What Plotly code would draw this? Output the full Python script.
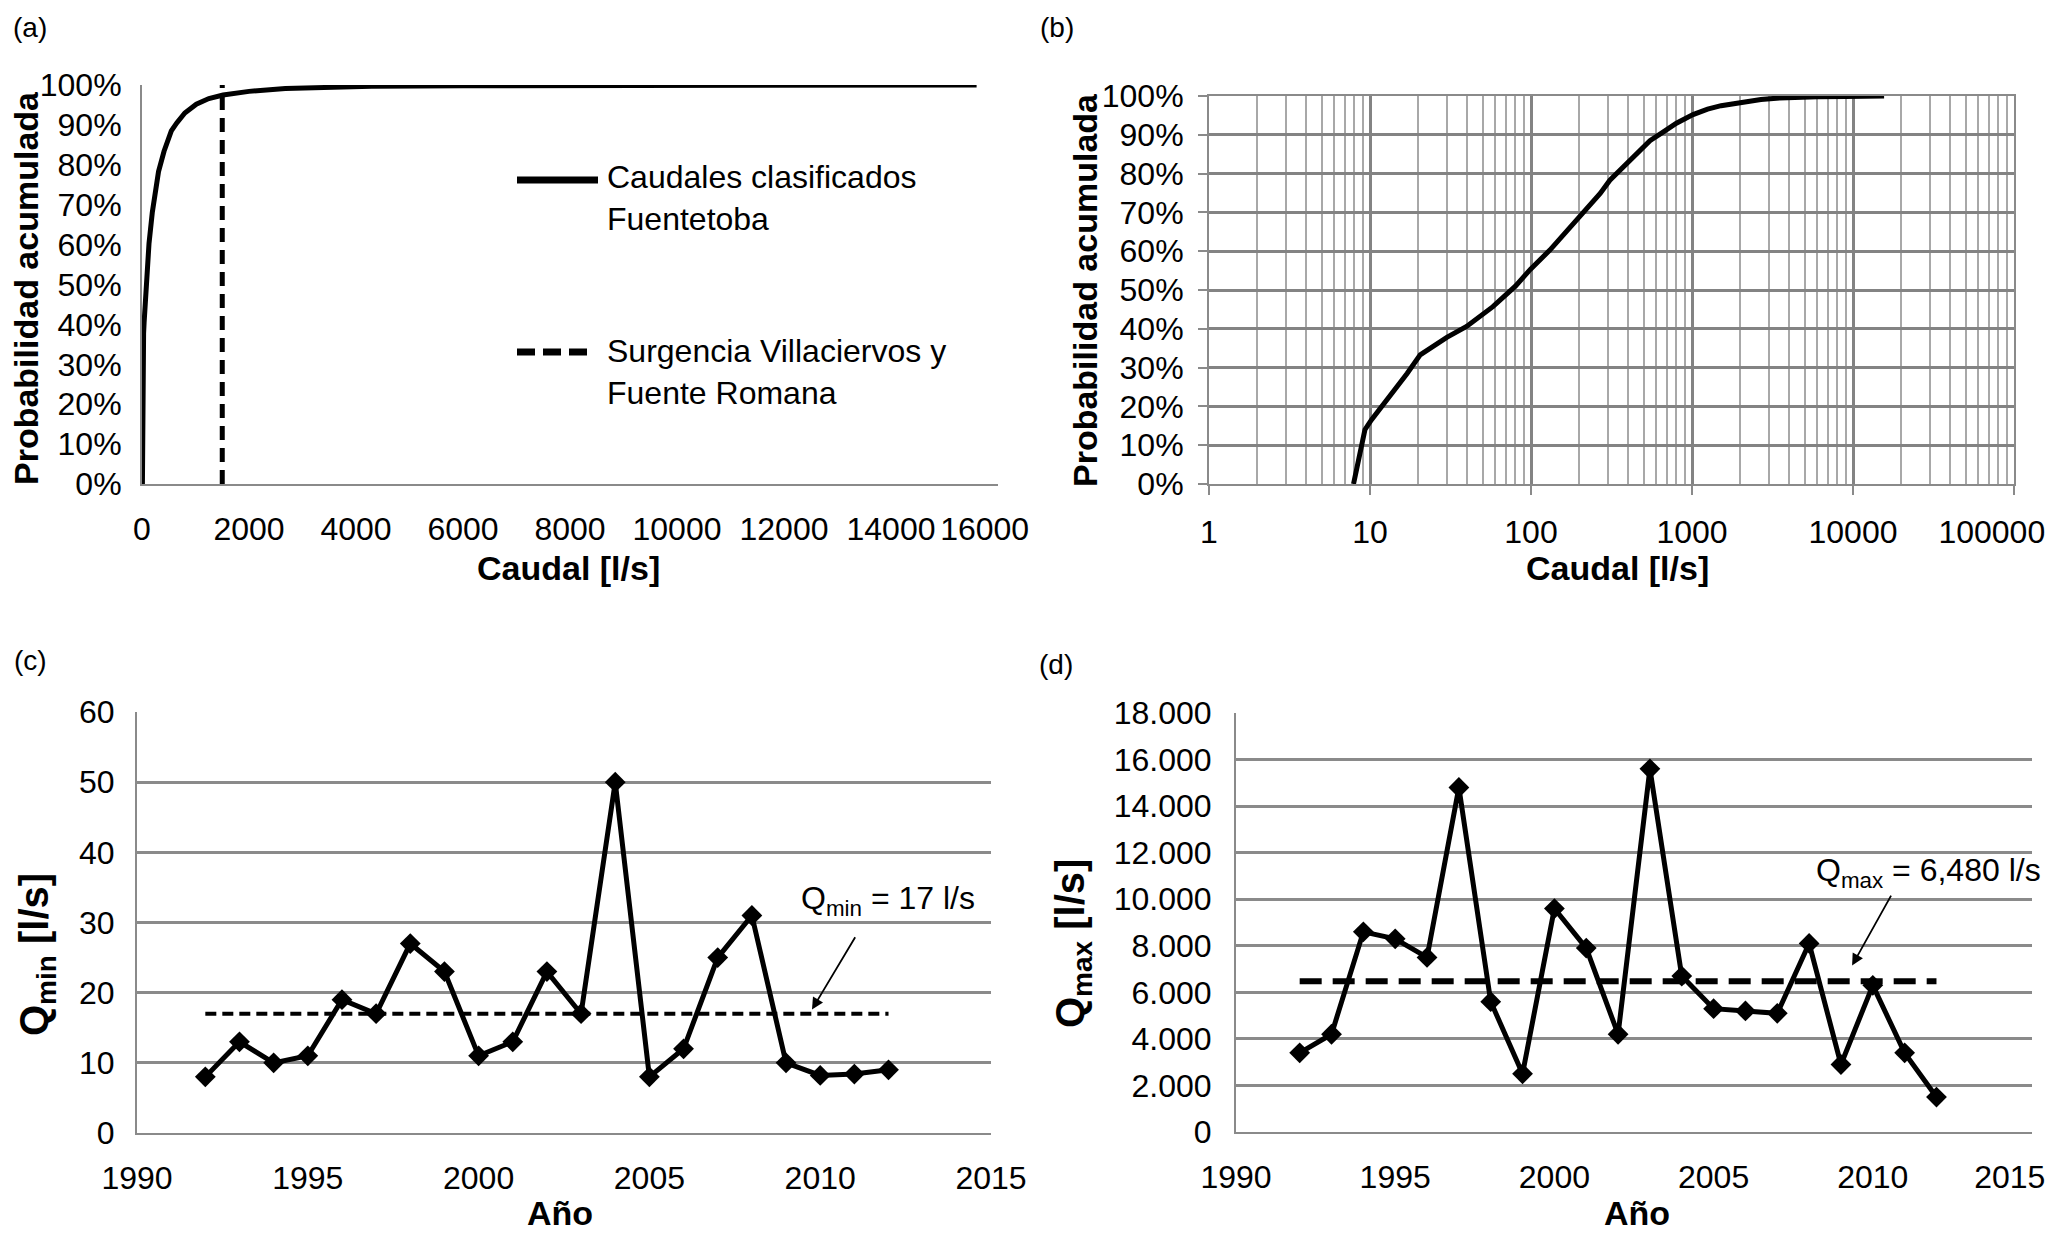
import plotly.graph_objects as go

# ---------------- data ----------------
# (a) / (b) flow duration curve (caudales clasificados Fuentetoba)
caudal = [7.9, 9.3, 10.2, 13.5, 17, 20.5, 23.6, 30, 39.8, 58, 80, 99, 131, 192,
          269, 309, 412, 548, 650, 800, 1015, 1250, 1516, 2000, 2680, 3500,
          4290, 6000, 9000, 12000, 15600]
prob = [0.0, 0.14, 0.165, 0.229, 0.285, 0.333, 0.35, 0.378, 0.406, 0.457, 0.51,
        0.553, 0.603, 0.68, 0.749, 0.783, 0.834, 0.885, 0.905, 0.93, 0.952,
        0.966, 0.975, 0.984, 0.991, 0.995, 0.997, 0.998, 0.999, 0.9995, 1.0]
surgencia_caudal = 1500
surgencia_prob = [0.0, 1.0]

# (c) / (d) annual minimum / maximum flows
years = list(range(1992, 2013))
qmin = [8, 13, 10, 11, 19, 17, 27, 23, 11, 13, 23, 17, 50, 8, 12, 25, 31, 10,
        8.2, 8.4, 9]
qmax = [3400, 4200, 8600, 8300, 7500, 14800, 5600, 2500, 9600, 7900, 4200,
        15600, 6700, 5300, 5200, 5100, 8100, 2900, 6300, 3400, 1500]
qmin_mean = 17
qmax_mean = 6480
mean_years = [1992, 2012]

NB = "\u00a0"
# tick labels
pct_vals = [i / 10 for i in range(11)]
a_xticks = list(range(0, 16001, 2000))
a_xticktext = ["0", "2000", "4000", "6000", "8000", "10000", "12000", "14000",
               "16000" + NB * 3]
b_xticks = [1, 10, 100, 1000, 10000, 100000]
b_xticktext = ["1", "10", "100", "1000", "10000", "100000" + NB * 5]
b_minor = [m * 10 ** e for e in range(5) for m in range(2, 10)]
year_ticks = [1990, 1995, 2000, 2005, 2010, 2015]
year_ticktext_c = ["1990", "1995", "2000", "2005", "2010", "2015"]
year_ticktext_d = ["1990", "1995", "2000", "2005", "2010", "2015" + NB * 5]
d_yticks = list(range(0, 18001, 2000))
d_yticktext = ["0", "2.000", "4.000", "6.000", "8.000", "10.000", "12.000",
               "14.000", "16.000", "18.000"]

# ---------------- layout helpers ----------------
OFF = 8  # page body margin
W, H = 2067 - OFF, 1243 - 2 * OFF
FONT = "Liberation Sans, Arial, Helvetica, sans-serif"
GRAY = "#8a8a8a"


def px(x):
    return (x - OFF) / W


def py(y):
    return 1 - (y - OFF) / H


fig = go.Figure()

# (a)
fig.add_trace(go.Scatter(x=caudal, y=prob, mode="lines",
                         line=dict(color="black", width=5),
                         xaxis="x", yaxis="y", showlegend=False))
fig.add_trace(go.Scatter(x=[surgencia_caudal, surgencia_caudal], y=surgencia_prob,
                         mode="lines",
                         line=dict(color="black", width=5, dash="14px,8px"),
                         xaxis="x", yaxis="y", showlegend=False))
# (b)
fig.add_trace(go.Scatter(x=caudal, y=prob, mode="lines",
                         line=dict(color="black", width=5),
                         xaxis="x2", yaxis="y2", showlegend=False))
# (c)
fig.add_trace(go.Scatter(x=mean_years, y=[qmin_mean, qmin_mean], mode="lines",
                         line=dict(color="black", width=4, dash="11px,6px"),
                         xaxis="x3", yaxis="y3", showlegend=False))
fig.add_trace(go.Scatter(x=years, y=qmin, mode="lines+markers",
                         line=dict(color="black", width=5),
                         marker=dict(symbol="diamond", size=16, color="black"),
                         xaxis="x3", yaxis="y3", showlegend=False))
# (d)
fig.add_trace(go.Scatter(x=mean_years, y=[qmax_mean, qmax_mean], mode="lines",
                         line=dict(color="black", width=6, dash="22px,11px"),
                         xaxis="x4", yaxis="y4", showlegend=False))
fig.add_trace(go.Scatter(x=years, y=qmax, mode="lines+markers",
                         line=dict(color="black", width=5),
                         marker=dict(symbol="diamond", size=16, color="black"),
                         xaxis="x4", yaxis="y4", showlegend=False))

tickfont = dict(family=FONT, size=32, color="black")
base_axis = dict(showline=True, linecolor=GRAY, linewidth=2, zeroline=False,
                 tickfont=tickfont, showgrid=False, ticks="", automargin=False,
                 ticklabeloverflow="allow")

layout = dict(
    width=W, height=H, margin=dict(l=0, r=0, t=0, b=0, autoexpand=False),
    paper_bgcolor="white", plot_bgcolor="white", showlegend=False,
    font=dict(family=FONT, color="black"),
    xaxis=dict(base_axis, domain=[px(142), px(998)], range=[0, 16000],
               tickvals=a_xticks, ticktext=a_xticktext, anchor="y",
               ticklabelstandoff=16),
    yaxis=dict(base_axis, domain=[py(484), py(85)], range=[0, 1],
               tickvals=pct_vals, tickformat=".0%", anchor="x",
               ticklabelstandoff=12),
    xaxis2=dict(base_axis, type="log", domain=[px(1209), px(2014)], range=[0, 5],
                tickvals=b_xticks, ticktext=b_xticktext, anchor="y2",
                showgrid=True, gridcolor="#838383", gridwidth=3, mirror=True,
                ticks="outside", ticklen=9, tickwidth=2, tickcolor=GRAY,
                ticklabelstandoff=10,
                minor=dict(tickvals=b_minor, showgrid=True, gridcolor="#a8a8a8",
                           gridwidth=2, ticks="")),
    yaxis2=dict(base_axis, domain=[py(484), py(96)], range=[0, 1],
                tickvals=pct_vals, tickformat=".0%", anchor="x2",
                showgrid=True, gridcolor="#838383", gridwidth=3, mirror=True,
                ticks="outside", ticklen=9, tickwidth=2, tickcolor=GRAY,
                ticklabelstandoff=8),
    xaxis3=dict(base_axis, domain=[px(137), px(991)], range=[1990, 2015],
                tickvals=year_ticks, ticktext=year_ticktext_c, anchor="y3",
                ticklabelstandoff=16),
    yaxis3=dict(base_axis, domain=[py(1133), py(712)], range=[0, 60], dtick=10,
                anchor="x3", showgrid=True, gridcolor=GRAY, gridwidth=2.5,
                ticklabelstandoff=14),
    xaxis4=dict(base_axis, domain=[px(1236), px(2032)], range=[1990, 2015],
                tickvals=year_ticks, ticktext=year_ticktext_d, anchor="y4",
                ticklabelstandoff=16),
    yaxis4=dict(base_axis, domain=[py(1132), py(713)], range=[0, 18000],
                tickvals=d_yticks, ticktext=d_yticktext, anchor="x4",
                showgrid=True, gridcolor=GRAY, gridwidth=2.5,
                ticklabelstandoff=16),
)
fig.update_layout(**layout)

annotations = []


def label(text, x, y, size=32, bold=False, angle=0, xanchor="center",
          align="center"):
    t = f"<b>{text}</b>" if bold else text
    annotations.append(dict(text=t, x=px(x), y=py(y), xref="paper",
                            yref="paper", showarrow=False, textangle=angle,
                            xanchor=xanchor, yanchor="middle", align=align,
                            font=dict(family=FONT, size=size, color="black")))


# panel letters
label("(a)", 30, 28, size=28)
label("(b)", 1057, 28, size=28)
label("(c)", 30, 660, size=28)
label("(d)", 1056, 664, size=28)

# axis titles
label("Probabilidad acumulada", 26, 288, size=34, bold=True, angle=-90)
label("Probabilidad acumulada", 1085, 290, size=34, bold=True, angle=-90)
label("Caudal [l/s]", 568, 568, size=34, bold=True)
label("Caudal [l/s]", 1617, 568, size=34, bold=True)
label("Q<sub>min</sub> [l/s]", 37, 955, size=40, bold=True, angle=-90)
label("Q<sub>max</sub> [l/s]", 1073, 944, size=40, bold=True, angle=-90)
label("Año", 560, 1213, size=34, bold=True)
label("Año", 1637, 1213, size=34, bold=True)

# legend (a)
label("Caudales clasificados<br>Fuentetoba", 605, 198, size=32,
      xanchor="left", align="left")
label("Surgencia Villaciervos y<br>Fuente Romana", 605, 372, size=32,
      xanchor="left", align="left")

# mean annotations
label(f"Q<sub>min</sub> = {qmin_mean} l/s", 888, 900, size=32)
label("Q<sub>max</sub> = 6,480 l/s", 1928, 872, size=32)
annotations.append(dict(x=2009.76, y=17.6, ax=2011.05, ay=28.1, xref="x3",
                        yref="y3", axref="x3", ayref="y3", text="",
                        showarrow=True, arrowhead=2, arrowsize=1.3,
                        arrowwidth=1.8, arrowcolor="black"))
annotations.append(dict(x=2009.35, y=7150, ax=2010.6, ay=10220, xref="x4",
                        yref="y4", axref="x4", ayref="y4", text="",
                        showarrow=True, arrowhead=2, arrowsize=1.3,
                        arrowwidth=1.8, arrowcolor="black"))

shapes = [
    dict(type="line", xref="paper", yref="paper", x0=px(517), x1=px(598),
         y0=py(180), y1=py(180), line=dict(color="black", width=7)),
    dict(type="line", xref="paper", yref="paper", x0=px(517), x1=px(590),
         y0=py(352), y1=py(352), line=dict(color="black", width=7,
                                           dash="18px,8px")),
]

fig.update_layout(annotations=annotations, shapes=shapes)
fig.write_html("out.html")
